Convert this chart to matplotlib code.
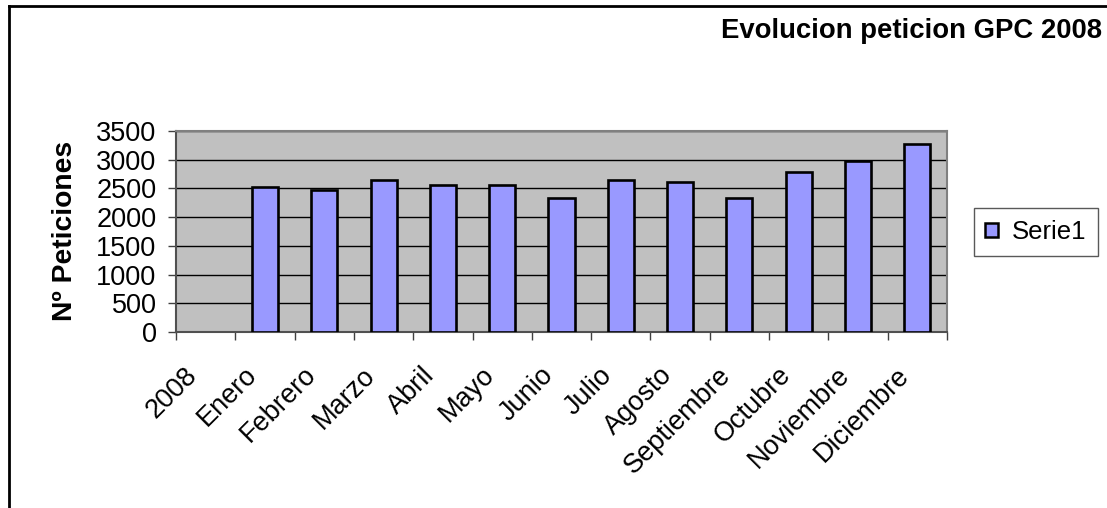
import numpy as np
import matplotlib
matplotlib.use("Agg")
import matplotlib.pyplot as plt
import matplotlib.transforms as mtransforms
from matplotlib.lines import Line2D

plt.rcParams['font.family'] = ['Liberation Sans', 'DejaVu Sans']

# ------------------------------------------------------------
# data
# ------------------------------------------------------------

categories = ["2008", "Enero", "Febrero", "Marzo", "Abril", "Mayo", "Junio",
              "Julio", "Agosto", "Septiembre", "Octubre", "Noviembre", "Diciembre"]

peticiones = [np.nan, 2520, 2480, 2650, 2560, 2560, 2340,
              2650, 2610, 2340, 2790, 2970, 3270]

yticks = [0, 500, 1000, 1500, 2000, 2500, 3000, 3500]

title = "Evolucion peticion GPC 2008"
ylabel = "Nº Peticiones"
serie = "Serie1"

# ------------------------------------------------------------
# figure
# ------------------------------------------------------------

W, H = 1107, 508
fig = plt.figure(figsize=(W/100, H/100), dpi=100)

# plot area (pixels: left 176, right 947, top 131, bottom 332)
ax = fig.add_axes([176/W, 1-332/H, (947-176)/W, (332-131)/H])
ax.set_facecolor('#C0C0C0')

x = np.arange(len(categories))

ax.bar(x, peticiones, width=0.44, color='#9999FF',
       edgecolor='black', linewidth=1.9, zorder=3,
       label=serie)

ax.set_xlim(-0.5, len(categories)-0.5)
ax.set_ylim(0, 3500)

# gridlines
ax.set_yticks(yticks)
ax.yaxis.grid(True, color='black', linewidth=1.0, zorder=1)
ax.set_axisbelow(True)

ax.tick_params(axis='y', labelsize=19.5, length=6, width=1.0,
               color='#404040', pad=8)

# x ticks between categories
ax.set_xticks(np.arange(-0.5, len(categories)))
ax.set_xticklabels([])
ax.tick_params(axis='x', length=6, width=1.0, color='#404040',
               direction='out')

for s in ['top', 'right']:
    ax.spines[s].set_color('#808080')
    ax.spines[s].set_linewidth(1.5)
for s in ['left', 'bottom']:
    ax.spines[s].set_color('#505050')
    ax.spines[s].set_linewidth(1.5)

# rotated category labels
offset = mtransforms.ScaledTranslation(-0.03, -0.30, fig.dpi_scale_trans)
trans = mtransforms.blended_transform_factory(ax.transData, ax.transAxes) + offset

for i, lab in enumerate(categories):
    ax.text(i, 0, lab, transform=trans, rotation=45,
            ha='right', va='top', fontsize=19.5)

# ------------------------------------------------------------
# texts
# ------------------------------------------------------------

fig.text(1102/W, 1-31/H, title, ha='right', va='center',
         fontsize=19.8, fontweight='bold')

fig.text(65/W, 1-231/H, ylabel, rotation=90, ha='center', va='center',
         fontsize=20.3, fontweight='bold')

leg = fig.legend(loc='center', bbox_to_anchor=(1036/W, 1-232/H),
                 fontsize=18.5, frameon=True, fancybox=False,
                 handlelength=0.5, handleheight=0.5,
                 handletextpad=0.55, borderpad=0.45, borderaxespad=0)
leg.get_frame().set_edgecolor('#303030')
leg.get_frame().set_linewidth(1.0)
for p in leg.get_patches():
    p.set_linewidth(1.8)

# outer chart border (left and top edges visible)
fig.add_artist(Line2D([8.7/W, 8.7/W], [0, 1-6.2/H],
                      transform=fig.transFigure, color='black', linewidth=2.0))
fig.add_artist(Line2D([8.7/W, 1], [1-6.2/H, 1-6.2/H],
                      transform=fig.transFigure, color='black', linewidth=2.0))

fig.savefig("out.png", dpi=100, facecolor='white')
